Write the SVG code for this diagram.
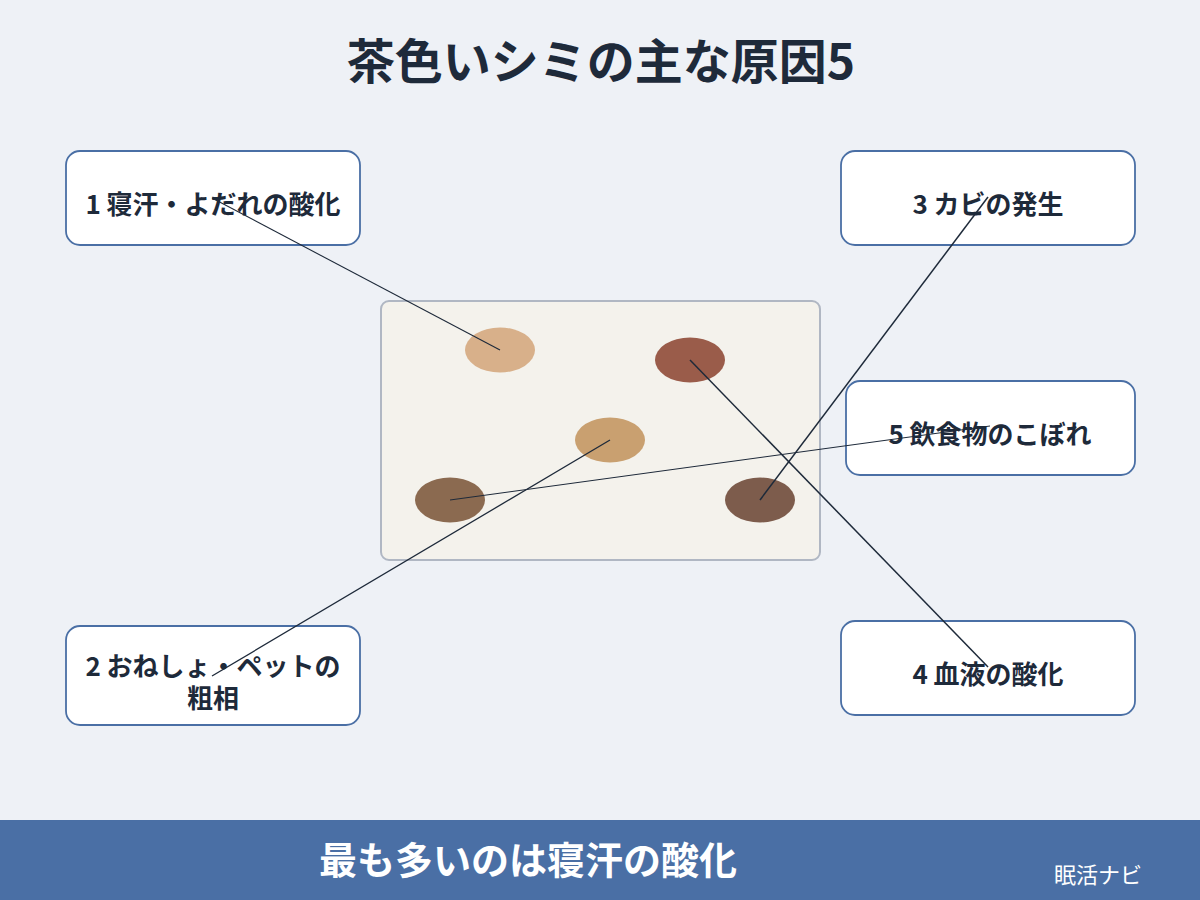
<svg xmlns="http://www.w3.org/2000/svg" width="1200" height="900" viewBox="0 0 1200 900">
<style>
.bg{fill:#eef1f6}
.box{fill:#ffffff;stroke:#4a6fa5;stroke-width:1.8}
.lbl{font-family:"Noto Sans CJK JP","Noto Sans",sans-serif;font-weight:700;font-size:26px;fill:#1e2a3a;text-anchor:middle}
.title{font-family:"Noto Sans CJK JP","Noto Sans",sans-serif;font-weight:700;font-size:48px;fill:#1e2a3a;text-anchor:middle}
.foot{font-family:"Noto Sans CJK JP","Noto Sans",sans-serif;font-weight:700;font-size:38px;fill:#ffffff;text-anchor:middle}
.brand{font-family:"Noto Sans CJK JP","Noto Sans",sans-serif;font-size:22px;fill:#ffffff;text-anchor:middle}
.ln{stroke:#1e2a3a;fill:none}
</style>
<rect class="bg" x="0" y="0" width="1200" height="900"/>
<text class="title" x="601" y="79">茶色いシミの主な原因5</text>
<g id="sheet">
<rect x="381" y="301" width="439" height="259" rx="8" fill="#f4f2ec" stroke="#b0b7c3" stroke-width="2"/>
<ellipse cx="500" cy="350" rx="35" ry="22.5" fill="#d8b08a"/>
<ellipse cx="690" cy="360" rx="35" ry="22.5" fill="#9a5c4a"/>
<ellipse cx="610" cy="440" rx="35" ry="22.5" fill="#c9a070"/>
<ellipse cx="450" cy="500" rx="35" ry="22.5" fill="#8b6a50"/>
<ellipse cx="760" cy="500" rx="35" ry="22.5" fill="#7d5c4c"/>
</g>
<g id="node1">
<rect class="box" x="66" y="151" width="294" height="94" rx="14"/>
<text class="lbl" x="213" y="214">1 寝汗・よだれの酸化</text>
</g>
<g id="node2">
<rect class="box" x="66" y="626" width="294" height="99" rx="14"/>
<text class="lbl" x="213" y="676">2 おねしょ・ペットの</text>
<text class="lbl" x="213" y="708">粗相</text>
</g>
<g id="node3">
<rect class="box" x="841" y="151" width="294" height="94" rx="14"/>
<text class="lbl" x="988" y="214">3 カビの発生</text>
</g>
<g id="node5">
<rect class="box" x="846" y="381" width="289" height="94" rx="14"/>
<text class="lbl" x="990" y="444">5 飲食物のこぼれ</text>
</g>
<g id="node4">
<rect class="box" x="841" y="621" width="294" height="94" rx="14"/>
<text class="lbl" x="988" y="684">4 血液の酸化</text>
</g>
<g id="connectors">
<line class="ln" x1="212" y1="198" x2="500" y2="350" stroke-width="1.1"/>
<line class="ln" x1="212" y1="676" x2="610" y2="440" stroke-width="1.3"/>
<line class="ln" x1="988" y1="197" x2="760" y2="500" stroke-width="1.5"/>
<line class="ln" x1="988" y1="667" x2="690" y2="360" stroke-width="1.5"/>
<line class="ln" x1="990" y1="426" x2="450" y2="500" stroke-width="1"/>
</g>
<g id="footer">
<rect x="0" y="820" width="1200" height="80" fill="#4a6fa5"/>
<text class="foot" x="528" y="874">最も多いのは寝汗の酸化</text>
<text class="brand" x="1098" y="883">眠活ナビ</text>
</g>
</svg>
